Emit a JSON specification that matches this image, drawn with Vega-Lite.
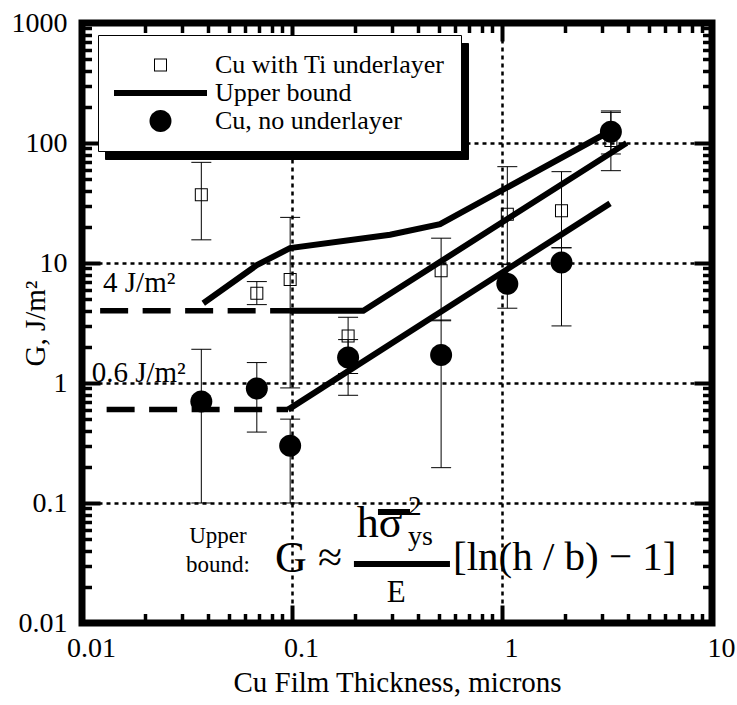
{
  "$schema": "https://vega.github.io/schema/vega-lite/v6.json",
  "width": 630,
  "height": 600,
  "autosize": {"type": "none"},
  "padding": {"left": 82, "top": 23, "right": 25, "bottom": 82},
  "config": {
    "font": "Liberation Serif",
    "view": {"stroke": "black", "strokeWidth": 7},
    "axis": {"labelFont": "Liberation Serif", "titleFont": "Liberation Serif", "labelColor": "black", "titleColor": "black", "tickColor": "black", "domain": false, "titleFontWeight": "normal", "labelFlush": false, "labelOverlap": false},
    "legend": {"labelFont": "Liberation Serif", "labelFontSize": 26, "labelColor": "black", "labelLimit": 0}
  },
  "datasets": {
    "pts": [
      {"series": "Cu with Ti underlayer", "x": 0.037, "G": 37, "lo": 15.6, "hi": 69},
      {"series": "Cu with Ti underlayer", "x": 0.068, "G": 5.6, "lo": 4.5, "hi": 7.0},
      {"series": "Cu with Ti underlayer", "x": 0.098, "G": 7.3, "lo": 0.91, "hi": 24},
      {"series": "Cu with Ti underlayer", "x": 0.185, "G": 2.46, "lo": 1.2, "hi": 3.53},
      {"series": "Cu with Ti underlayer", "x": 0.513, "G": 8.6, "lo": 3.3, "hi": 16.1},
      {"series": "Cu with Ti underlayer", "x": 1.06, "G": 25.5, "lo": 9.8, "hi": 63.5},
      {"series": "Cu with Ti underlayer", "x": 1.92, "G": 27.3, "lo": 13.4, "hi": 57.7},
      {"series": "Cu with Ti underlayer", "x": 3.3, "G": 105, "lo": 81, "hi": 185},
      {"series": "Cu, no underlayer", "x": 0.037, "G": 0.70, "lo": 0.1, "hi": 1.91},
      {"series": "Cu, no underlayer", "x": 0.068, "G": 0.90, "lo": 0.39, "hi": 1.48},
      {"series": "Cu, no underlayer", "x": 0.098, "G": 0.30, "lo": 0.1, "hi": 0.50},
      {"series": "Cu, no underlayer", "x": 0.185, "G": 1.63, "lo": 0.79, "hi": 2.3},
      {"series": "Cu, no underlayer", "x": 0.513, "G": 1.71, "lo": 0.197, "hi": 3.35},
      {"series": "Cu, no underlayer", "x": 1.06, "G": 6.7, "lo": 4.2, "hi": 9.7},
      {"series": "Cu, no underlayer", "x": 1.92, "G": 10.1, "lo": 2.99, "hi": 13.4},
      {"series": "Cu, no underlayer", "x": 3.3, "G": 124, "lo": 58.8, "hi": 180}
    ],
    "bounds": [
      {"line": "A", "x": 0.0378, "G": 4.62},
      {"line": "A", "x": 0.068, "G": 9.6},
      {"line": "A", "x": 0.0978, "G": 13.3},
      {"line": "A", "x": 0.293, "G": 17.2},
      {"line": "A", "x": 0.507, "G": 21.1},
      {"line": "A", "x": 3.03, "G": 116.6},
      {"line": "B0", "x": 0.0122, "G": 4},
      {"line": "B0", "x": 0.0978, "G": 4},
      {"line": "B", "x": 0.0978, "G": 4},
      {"line": "B", "x": 0.2186, "G": 4},
      {"line": "B", "x": 3.92, "G": 100},
      {"line": "C0", "x": 0.0131, "G": 0.6},
      {"line": "C0", "x": 0.0958, "G": 0.6},
      {"line": "C", "x": 0.0958, "G": 0.6},
      {"line": "C", "x": 3.27, "G": 31.4}
    ],
    "labels": [
      {"label": "4 J/m²", "x": 0.0126, "G": 5.77},
      {"label": "0.6 J/m²", "x": 0.01112, "G": 1.026}
    ],
    "upper": [
      {"label": "Upper", "x": 0.0444, "G": 0.0462},
      {"label": "bound:", "x": 0.0444, "G": 0.02676}
    ],
    "eqbig": [
      {"label": "G ≈", "x": 0.0831, "G": 0.02676},
      {"label": "hσ", "x": 0.2033, "G": 0.0524}
    ],
    "eqbr": [
      {"label": "[ln(h / b) − 1]", "x": 0.5843, "G": 0.02766}
    ],
    "eqsup": [{"label": "2", "x": 0.3567, "G": 0.0794}],
    "eqsub": [{"label": "ys", "x": 0.3567, "G": 0.0447}],
    "eqden": [{"label": "E", "x": 0.2825, "G": 0.01505}],
    "bars": [
      {"x": 0.1972, "x2": 0.5652, "G": 0.03102},
      {"x": 0.2567, "x2": 0.3647, "G": 0.0841}
    ]
  },
  "layer": [
    {
      "data": {"name": "pts"},
      "mark": {"type": "rule", "color": "black", "strokeWidth": 1},
      "encoding": {
        "x": {"field": "x", "type": "quantitative", "scale": {"type": "log", "domain": [0.01, 10], "nice": false},
          "axis": {"orient": "bottom", "values": [0.01, 0.1, 1, 10], "format": "~g", "labelFontSize": 28, "labelOffset": 9, "tickSize": -18, "tickWidth": 4, "labelPadding": 29, "grid": true, "gridColor": "black", "gridOpacity": 1, "gridDash": [4, 4], "gridWidth": 2.5, "title": "Cu Film Thickness, microns", "titleFontSize": 29, "titlePadding": 6}},
        "y": {"field": "lo", "type": "quantitative", "scale": {"type": "log", "domain": [0.01, 1000], "nice": false},
          "axis": {"orient": "left", "values": [0.01, 0.1, 1, 10, 100, 1000], "format": "~g", "labelFontSize": 28, "tickSize": -18, "tickWidth": 4, "labelPadding": 33, "grid": true, "gridColor": "black", "gridOpacity": 1, "gridDash": [4, 4], "gridWidth": 2.5, "title": "G, J/m²", "titleFontSize": 29, "titleX": -47, "titleY": 300, "titleAngle": -90, "titleAlign": "center", "titleBaseline": "middle"}},
        "y2": {"field": "hi"}
      }
    },
    {
      "data": {"name": "pts"},
      "mark": {"type": "tick", "orient": "horizontal", "size": 20, "thickness": 1, "color": "black", "opacity": 1},
      "encoding": {
        "x": {"field": "x", "type": "quantitative", "scale": {"type": "log", "domain": [0.01, 10], "nice": false},
          "axis": {"orient": "bottom", "values": [0.02,0.03,0.04,0.05,0.06,0.07,0.08,0.09,0.2,0.3,0.4,0.5,0.6,0.7,0.8,0.9,2,3,4,5,6,7,8,9], "labels": false, "tickSize": -9.5, "tickWidth": 3.5, "grid": false, "title": null}},
        "y": {"field": "lo", "type": "quantitative", "scale": {"type": "log", "domain": [0.01, 1000], "nice": false},
          "axis": {"orient": "left", "values": [0.02,0.03,0.04,0.05,0.06,0.07,0.08,0.09,0.2,0.3,0.4,0.5,0.6,0.7,0.8,0.9,2,3,4,5,6,7,8,9,20,30,40,50,60,70,80,90,200,300,400,500,600,700,800,900], "labels": false, "tickSize": -9.5, "tickWidth": 3.5, "grid": false, "title": null}}
      }
    },
    {
      "data": {"name": "pts"},
      "mark": {"type": "tick", "orient": "horizontal", "size": 20, "thickness": 1, "color": "black", "opacity": 1},
      "encoding": {
        "x": {"field": "x", "type": "quantitative", "scale": {"type": "log", "domain": [0.01, 10], "nice": false},
          "axis": {"orient": "top", "values": [0.01, 0.1, 1, 10], "labels": false, "tickSize": -18, "tickWidth": 4, "grid": false, "title": null}},
        "y": {"field": "hi", "type": "quantitative", "scale": {"type": "log", "domain": [0.01, 1000], "nice": false},
          "axis": {"orient": "right", "values": [0.01, 0.1, 1, 10, 100, 1000], "labels": false, "tickSize": -18, "tickWidth": 4, "grid": false, "title": null}}
      }
    },
    {
      "data": {"name": "pts"},
      "transform": [{"filter": "datum.series === 'Cu with Ti underlayer'"}],
      "mark": {"type": "point", "filled": true, "color": "black", "strokeWidth": 0, "size": 8649, "opacity": 1},
      "encoding": {
        "x": {"field": "x", "type": "quantitative", "scale": {"type": "log", "domain": [0.01, 10], "nice": false},
          "axis": {"orient": "top", "values": [0.02,0.03,0.04,0.05,0.06,0.07,0.08,0.09,0.2,0.3,0.4,0.5,0.6,0.7,0.8,0.9,2,3,4,5,6,7,8,9], "labels": false, "tickSize": -9.5, "tickWidth": 3.5, "grid": false, "title": null}},
        "y": {"field": "G", "type": "quantitative", "scale": {"type": "log", "domain": [0.01, 1000], "nice": false},
          "axis": {"orient": "right", "values": [0.02,0.03,0.04,0.05,0.06,0.07,0.08,0.09,0.2,0.3,0.4,0.5,0.6,0.7,0.8,0.9,2,3,4,5,6,7,8,9,20,30,40,50,60,70,80,90,200,300,400,500,600,700,800,900], "labels": false, "tickSize": -9.5, "tickWidth": 3.5, "grid": false, "title": null}},
        "shape": {"field": "series", "type": "nominal",
          "scale": {"domain": ["Cu with Ti underlayer", "Upper bound", "Cu, no underlayer"],
            "range": [
              "M-0.14,-0.14L0.14,-0.14L0.14,0.14L-0.14,0.14ZM-0.118,-0.118L-0.118,0.118L0.118,0.118L0.118,-0.118Z",
              "M-1,-0.0645L1,-0.0645L1,0.0645L-1,0.0645Z",
              "M-0.2366,0A0.2366,0.2366,0,1,0,0.2366,0A0.2366,0.2366,0,1,0,-0.2366,0Z"
            ]},
          "legend": {"orient": "none", "legendX": 16, "legendY": 12, "title": null, "labelFont": "Liberation Serif", "labelFontSize": 26, "labelColor": "black", "labelLimit": 0, "fillColor": "white", "strokeColor": "black", "padding": 16, "clipHeight": 28, "rowPadding": 0, "labelOffset": 8, "symbolSize": 8649, "symbolStrokeWidth": 0, "symbolFillColor": "black", "symbolOpacity": 1, "zindex": 2}
        }
      }
    },
    {
      "data": {"name": "bounds"},
      "transform": [{"filter": "datum.line === 'B0' || datum.line === 'C0'"}],
      "mark": {"type": "line", "color": "black", "strokeWidth": 5.5, "strokeDash": [28, 14.5]},
      "encoding": {
        "x": {"field": "x", "type": "quantitative", "scale": {"type": "log", "domain": [0.01, 10], "nice": false}, "axis": null},
        "y": {"field": "G", "type": "quantitative", "scale": {"type": "log", "domain": [0.01, 1000], "nice": false}, "axis": null},
        "detail": {"field": "line"}
      }
    },
    {
      "data": {"name": "bounds"},
      "transform": [{"filter": "datum.line === 'A' || datum.line === 'B' || datum.line === 'C'"}],
      "mark": {"type": "line", "color": "black", "strokeWidth": 6},
      "encoding": {
        "x": {"field": "x", "type": "quantitative", "scale": {"type": "log", "domain": [0.01, 10], "nice": false}, "axis": null},
        "y": {"field": "G", "type": "quantitative", "scale": {"type": "log", "domain": [0.01, 1000], "nice": false}, "axis": null},
        "detail": {"field": "line"}
      }
    },
    {
      "data": {"name": "pts"},
      "transform": [{"filter": "datum.series === 'Cu, no underlayer'"}, {"calculate": "datum.series", "as": "series2"}],
      "mark": {"type": "point", "filled": true, "color": "black", "strokeWidth": 0, "size": 8649},
      "encoding": {
        "x": {"field": "x", "type": "quantitative", "scale": {"type": "log", "domain": [0.01, 10], "nice": false}, "axis": null},
        "y": {"field": "G", "type": "quantitative", "scale": {"type": "log", "domain": [0.01, 1000], "nice": false}, "axis": null},
        "shape": {"field": "series", "type": "nominal"},
        "opacity": {"field": "series2", "type": "nominal",
          "scale": {"domain": ["Upper bound", "Cu with Ti underlayer", "Cu, no underlayer"], "range": [1, 1]},
          "legend": {"orient": "none", "legendX": 23, "legendY": 20, "title": null, "labelFont": "Liberation Serif", "labelFontSize": 26, "labelColor": "black", "labelLimit": 0, "fillColor": "black", "strokeColor": "black", "padding": 16, "clipHeight": 28, "rowPadding": 0, "labelOffset": 8, "symbolType": "stroke", "symbolSize": 8649, "symbolStrokeWidth": 0, "symbolFillColor": "black", "symbolStrokeColor": "black", "zindex": 1}}
      }
    },
    {
      "data": {"name": "labels"},
      "mark": {"type": "text", "align": "left", "baseline": "alphabetic", "fontSize": 29, "font": "Liberation Serif", "color": "black"},
      "encoding": {
        "x": {"field": "x", "type": "quantitative", "scale": {"type": "log", "domain": [0.01, 10], "nice": false}, "axis": null},
        "y": {"field": "G", "type": "quantitative", "scale": {"type": "log", "domain": [0.01, 1000], "nice": false}, "axis": null},
        "text": {"field": "label"}
      }
    },
    {
      "data": {"name": "upper"},
      "mark": {"type": "text", "align": "center", "baseline": "alphabetic", "fontSize": 23, "font": "Liberation Serif", "color": "black"},
      "encoding": {
        "x": {"field": "x", "type": "quantitative", "scale": {"type": "log", "domain": [0.01, 10], "nice": false}, "axis": null},
        "y": {"field": "G", "type": "quantitative", "scale": {"type": "log", "domain": [0.01, 1000], "nice": false}, "axis": null},
        "text": {"field": "label"}
      }
    },
    {
      "data": {"name": "eqbig"},
      "mark": {"type": "text", "align": "left", "baseline": "alphabetic", "fontSize": 44, "font": "Liberation Serif", "color": "black"},
      "encoding": {
        "x": {"field": "x", "type": "quantitative", "scale": {"type": "log", "domain": [0.01, 10], "nice": false}, "axis": null},
        "y": {"field": "G", "type": "quantitative", "scale": {"type": "log", "domain": [0.01, 1000], "nice": false}, "axis": null},
        "text": {"field": "label"}
      }
    },
    {
      "data": {"name": "eqbr"},
      "mark": {"type": "text", "align": "left", "baseline": "alphabetic", "fontSize": 41, "font": "Liberation Serif", "color": "black"},
      "encoding": {
        "x": {"field": "x", "type": "quantitative", "scale": {"type": "log", "domain": [0.01, 10], "nice": false}, "axis": null},
        "y": {"field": "G", "type": "quantitative", "scale": {"type": "log", "domain": [0.01, 1000], "nice": false}, "axis": null},
        "text": {"field": "label"}
      }
    },
    {
      "data": {"name": "eqsup"},
      "mark": {"type": "text", "align": "left", "baseline": "alphabetic", "fontSize": 27, "font": "Liberation Serif", "color": "black"},
      "encoding": {
        "x": {"field": "x", "type": "quantitative", "scale": {"type": "log", "domain": [0.01, 10], "nice": false}, "axis": null},
        "y": {"field": "G", "type": "quantitative", "scale": {"type": "log", "domain": [0.01, 1000], "nice": false}, "axis": null},
        "text": {"field": "label"}
      }
    },
    {
      "data": {"name": "eqsub"},
      "mark": {"type": "text", "align": "left", "baseline": "alphabetic", "fontSize": 28, "font": "Liberation Serif", "color": "black"},
      "encoding": {
        "x": {"field": "x", "type": "quantitative", "scale": {"type": "log", "domain": [0.01, 10], "nice": false}, "axis": null},
        "y": {"field": "G", "type": "quantitative", "scale": {"type": "log", "domain": [0.01, 1000], "nice": false}, "axis": null},
        "text": {"field": "label"}
      }
    },
    {
      "data": {"name": "eqden"},
      "mark": {"type": "text", "align": "left", "baseline": "alphabetic", "fontSize": 31, "font": "Liberation Serif", "color": "black"},
      "encoding": {
        "x": {"field": "x", "type": "quantitative", "scale": {"type": "log", "domain": [0.01, 10], "nice": false}, "axis": null},
        "y": {"field": "G", "type": "quantitative", "scale": {"type": "log", "domain": [0.01, 1000], "nice": false}, "axis": null},
        "text": {"field": "label"}
      }
    },
    {
      "data": {"name": "bars"},
      "mark": {"type": "rule", "color": "black", "strokeWidth": 6},
      "encoding": {
        "x": {"field": "x", "type": "quantitative", "scale": {"type": "log", "domain": [0.01, 10], "nice": false}, "axis": null},
        "x2": {"field": "x2"},
        "y": {"field": "G", "type": "quantitative", "scale": {"type": "log", "domain": [0.01, 1000], "nice": false}, "axis": null}
      }
    }
  ],
  "resolve": {"axis": {"x": "independent", "y": "independent"}}
}
